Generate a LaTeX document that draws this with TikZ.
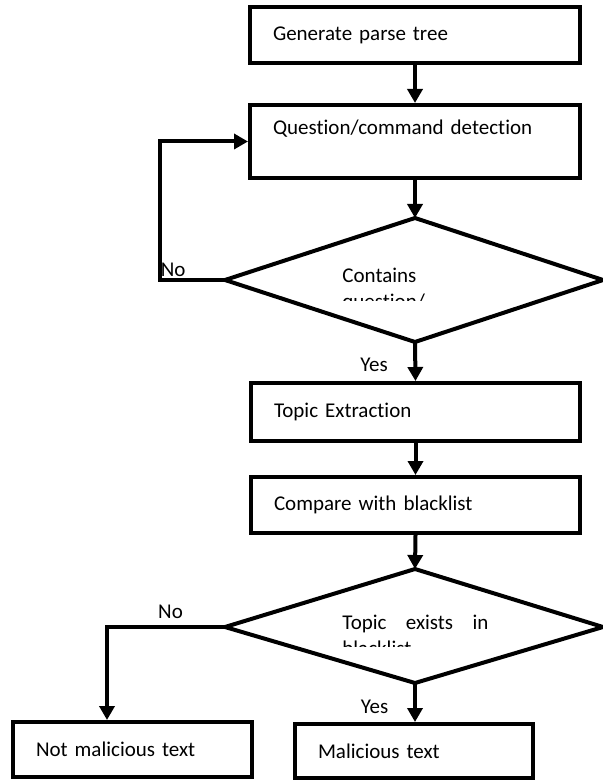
\documentclass[tikz,border=0pt]{standalone}
\usepackage{fontspec}
\setmainfont{Carlito}[Ligatures=NoCommon]
\usetikzlibrary{arrows.meta}
\hyphenpenalty=10000
\exhyphenpenalty=10000
\begin{document}
\begin{tikzpicture}[x=0.5pt,y=-0.5pt,
  font=\fontsize{10.5pt}{12.8pt}\selectfont,
  outline/.style={line width=2pt},
  box/.style={draw, outline, rectangle, inner xsep=11.5pt, inner ysep=2pt, align=left},
  flow/.style={outline, -{Triangle[width=7.5pt,length=7pt]}},
  tag/.style={inner sep=0pt},
  qtext/.style={inner sep=0pt, anchor=base west, text width=73pt}]
\useasboundingbox (0,0) rectangle (602,780);

% process boxes
\node[box, minimum width=165pt, text width=142pt, minimum height=28pt] (b1) at (415,35) {Generate parse tree};
\node[box, minimum width=165pt, text width=142pt, minimum height=36.5pt] (b2) at (415,141.5) {Question/command detection\\[1.7pt]\mbox{}};
\node[box, minimum width=164.5pt, text width=141.5pt, minimum height=29pt] (b3) at (415.5,412) {Topic Extraction};
\node[box, minimum width=164.5pt, text width=141.5pt, minimum height=28pt] (b4) at (415.5,505) {Compare with blacklist};
\node[box, minimum width=119.5pt, text width=96.5pt, minimum height=27.5pt] (b5) at (132.5,749.5) {Not malicious text};
\node[box, minimum width=119pt, text width=96pt, minimum height=27pt] (b6) at (414,751) {Malicious text};

% first decision
\coordinate (d1t) at (415,218);
\coordinate (d1r) at (603,280);
\coordinate (d1b) at (415,342);
\coordinate (d1l) at (225,280);
\draw[outline] (d1t) -- (d1r) -- (d1b) -- (d1l) -- cycle;
\begin{scope}
  \clip (330,250) rectangle (520,300);
  \node[qtext, align=left] (q1) at (342,282.5) {Contains question/};
\end{scope}

% second decision
\coordinate (d2t) at (415,569);
\coordinate (d2r) at (603,627);
\coordinate (d2b) at (415,683);
\coordinate (d2l) at (225,627);
\draw[outline] (d2t) -- (d2r) -- (d2b) -- (d2l) -- cycle;
\begin{scope}
  \clip (330,600) rectangle (520,646);
  \node[qtext, align=justify] (q2) at (342,629.5) {Topic exists in blacklist};
\end{scope}

% branch labels
\node[tag, anchor=base west] (no1) at (160.5,277) {No};
\node[tag] (yes1) at (374,365) {Yes};
\node[tag] (no2) at (170.5,612) {No};
\node[tag] (yes2) at (374.5,707) {Yes};

% connectors
\coordinate (k1) at (160,280);
\coordinate (k2) at (107,627);
\draw[flow] (b1.south) -- (b2.north);
\draw[flow] (b2.south) -- (d1t);
\draw[flow] (d1l) -- (k1) |- (b2.west);
\draw[flow] (d1b) -- (b3.north);
\draw[flow] (b3.south) -- (b4.north);
\draw[flow] (b4.south) -- (d2t);
\draw[flow] (d2l) -- (k2) -- (k2 |- b5.north);
\draw[flow] (d2b) -- (d2b |- b6.north);
\end{tikzpicture}
\end{document}
